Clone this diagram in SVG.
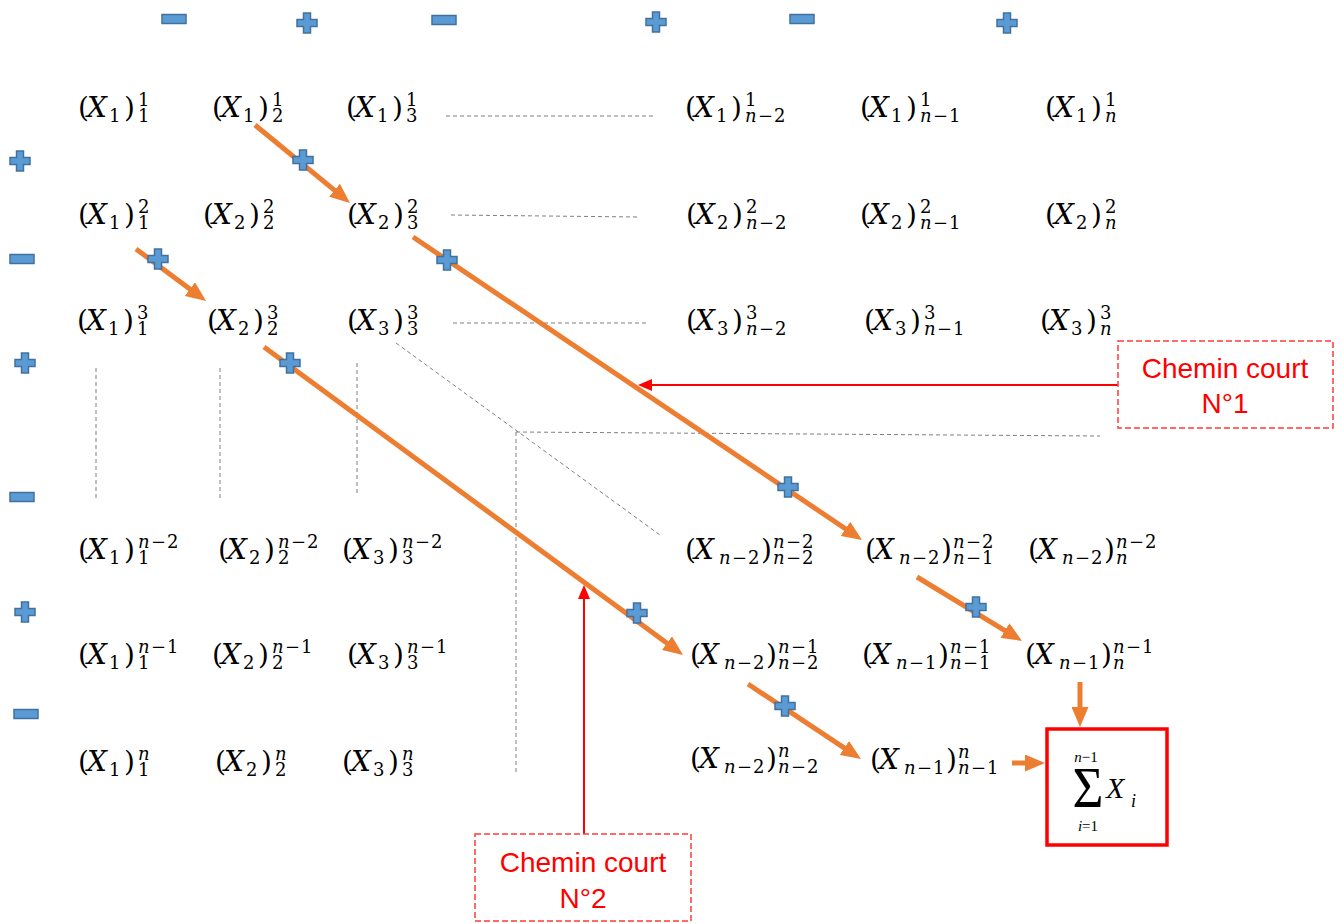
<svg xmlns="http://www.w3.org/2000/svg" width="1343" height="923" viewBox="0 0 1343 923">
<style>
.m{font-family:"DejaVu Serif","Liberation Serif",serif;font-size:28px;fill:#000}
.i{font-style:italic}
.s{font-size:18px}
.g{stroke:#7F7F7F;stroke-width:1;stroke-dasharray:4 3;fill:none}
.o{stroke:#ED7D31;stroke-width:5;fill:none;marker-end:url(#ao)}
.r{stroke:#FF0000;stroke-width:2;fill:none;marker-end:url(#ar)}
.pm{fill:#5B9BD5;stroke:#41719C;stroke-width:1.5}
.db{fill:#fff;stroke:#FF3B3B;stroke-width:1.5;stroke-dasharray:6 3}
.lbl{font-family:"Liberation Sans",Arial,sans-serif;font-size:28px;fill:#FF0000;text-anchor:middle}
.t{font-family:"Liberation Serif","Times New Roman",serif;fill:#000}
</style>
<defs>
<marker id="ao" markerUnits="userSpaceOnUse" markerWidth="20" markerHeight="17" refX="12" refY="8.5" orient="auto"><path d="M0,0 L20,8.5 L0,17 Z" fill="#ED7D31"/></marker>
<marker id="ar" markerUnits="userSpaceOnUse" markerWidth="14" markerHeight="12" refX="4" refY="6" orient="auto"><path d="M0,0 L14,6 L0,12 Z" fill="#FF0000"/></marker>
<path id="plus" d="M-3.5,-10 H3.5 V-3.5 H10 V3.5 H3.5 V10 H-3.5 V3.5 H-10 V-3.5 H-3.5 Z"/>
<rect id="minus" x="-12" y="-4.5" width="24" height="9"/>
</defs>
<rect width="1343" height="923" fill="#fff"/>

<g id="guides">
<line class="g" x1="446" y1="116" x2="653" y2="116"/>
<line class="g" x1="451" y1="215" x2="638" y2="217"/>
<line class="g" x1="453" y1="323" x2="648" y2="323"/>
<line class="g" x1="96" y1="368" x2="96" y2="500"/>
<line class="g" x1="220" y1="368" x2="220" y2="500"/>
<line class="g" x1="357" y1="363" x2="357" y2="496"/>
<line class="g" x1="396" y1="343" x2="660" y2="535"/>
<line class="g" x1="516" y1="432" x2="1100" y2="436"/>
<line class="g" x1="516" y1="432" x2="516" y2="773"/>
</g>

<g id="connectors">
<line class="o" x1="255" y1="125" x2="343.8" y2="197.9"/>
<line class="o" x1="136" y1="249" x2="199.6" y2="296.2"/>
<line class="o" x1="413" y1="237" x2="855.4" y2="535.5"/>
<line class="o" x1="264" y1="347" x2="676.6" y2="650.3"/>
<line class="o" x1="917" y1="577" x2="1015.2" y2="636.8"/>
<line class="o" x1="748" y1="684" x2="854.3" y2="754.6"/>
<line class="o" x1="1080" y1="682" x2="1080" y2="719"/>
<line class="o" x1="1012" y1="763" x2="1037" y2="763"/>
<line class="r" x1="1118" y1="385" x2="648" y2="385"/>
<line class="r" x1="584" y1="834" x2="584" y2="595"/>
</g>

<g id="signs">
<use href="#minus" class="pm" x="174" y="19"/>
<use href="#plus" class="pm" x="307" y="23"/>
<use href="#minus" class="pm" x="444" y="20"/>
<use href="#plus" class="pm" x="656" y="22"/>
<use href="#minus" class="pm" x="802" y="19"/>
<use href="#plus" class="pm" x="1007" y="23"/>
<use href="#plus" class="pm" x="20" y="161"/>
<use href="#minus" class="pm" x="22" y="259"/>
<use href="#plus" class="pm" x="25" y="363"/>
<use href="#minus" class="pm" x="22" y="497"/>
<use href="#plus" class="pm" x="25" y="612"/>
<use href="#minus" class="pm" x="26" y="714"/>
<use href="#plus" class="pm" x="303" y="160"/>
<use href="#plus" class="pm" x="158" y="259"/>
<use href="#plus" class="pm" x="447" y="260"/>
<use href="#plus" class="pm" x="290" y="363"/>
<use href="#plus" class="pm" x="788" y="487"/>
<use href="#plus" class="pm" x="637" y="613"/>
<use href="#plus" class="pm" x="976" y="607"/>
<use href="#plus" class="pm" x="785" y="706"/>
</g>

<!-- Row 1 -->
<g id="a1"><text class="m" y="117"><tspan x="78">(</tspan><tspan class="i" x="87">X</tspan><tspan class="s" x="109" y="122">1</tspan><tspan x="124" y="117">)</tspan><tspan class="s" x="138" y="106">1</tspan><tspan class="s" x="138" y="122">1</tspan></text></g>
<g id="a2"><text class="m" y="117"><tspan x="212">(</tspan><tspan class="i" x="221">X</tspan><tspan class="s" x="243" y="122">1</tspan><tspan x="258" y="117">)</tspan><tspan class="s" x="272" y="106">1</tspan><tspan class="s" x="272" y="122">2</tspan></text></g>
<g id="a3"><text class="m" y="117"><tspan x="346">(</tspan><tspan class="i" x="355">X</tspan><tspan class="s" x="377" y="122">1</tspan><tspan x="392" y="117">)</tspan><tspan class="s" x="406" y="106">1</tspan><tspan class="s" x="406" y="122">3</tspan></text></g>
<g id="a4"><text class="m" y="117"><tspan x="685">(</tspan><tspan class="i" x="694">X</tspan><tspan class="s" x="716" y="122">1</tspan><tspan x="731" y="117">)</tspan><tspan class="s" x="745" y="106">1</tspan><tspan class="s i" x="745" y="122">n</tspan><tspan class="s" x="758" y="122">−</tspan><tspan class="s" x="774" y="122">2</tspan></text></g>
<g id="a5"><text class="m" y="117"><tspan x="860">(</tspan><tspan class="i" x="869">X</tspan><tspan class="s" x="891" y="122">1</tspan><tspan x="906" y="117">)</tspan><tspan class="s" x="920" y="106">1</tspan><tspan class="s i" x="920" y="122">n</tspan><tspan class="s" x="933" y="122">−</tspan><tspan class="s" x="949" y="122">1</tspan></text></g>
<g id="a6"><text class="m" y="117"><tspan x="1045">(</tspan><tspan class="i" x="1054">X</tspan><tspan class="s" x="1076" y="122">1</tspan><tspan x="1091" y="117">)</tspan><tspan class="s" x="1105" y="106">1</tspan><tspan class="s i" x="1105" y="122">n</tspan></text></g>

<!-- Row 2 -->
<g id="b1"><text class="m" y="224"><tspan x="78">(</tspan><tspan class="i" x="87">X</tspan><tspan class="s" x="109" y="229">1</tspan><tspan x="124" y="224">)</tspan><tspan class="s" x="138" y="213">2</tspan><tspan class="s" x="138" y="229">1</tspan></text></g>
<g id="b2"><text class="m" y="224"><tspan x="203">(</tspan><tspan class="i" x="212">X</tspan><tspan class="s" x="234" y="229">2</tspan><tspan x="249" y="224">)</tspan><tspan class="s" x="263" y="213">2</tspan><tspan class="s" x="263" y="229">2</tspan></text></g>
<g id="b3"><text class="m" y="224"><tspan x="347">(</tspan><tspan class="i" x="356">X</tspan><tspan class="s" x="378" y="229">2</tspan><tspan x="393" y="224">)</tspan><tspan class="s" x="407" y="213">2</tspan><tspan class="s" x="407" y="229">3</tspan></text></g>
<g id="b4"><text class="m" y="224"><tspan x="686">(</tspan><tspan class="i" x="695">X</tspan><tspan class="s" x="717" y="229">2</tspan><tspan x="732" y="224">)</tspan><tspan class="s" x="746" y="213">2</tspan><tspan class="s i" x="746" y="229">n</tspan><tspan class="s" x="759" y="229">−</tspan><tspan class="s" x="775" y="229">2</tspan></text></g>
<g id="b5"><text class="m" y="224"><tspan x="860">(</tspan><tspan class="i" x="869">X</tspan><tspan class="s" x="891" y="229">2</tspan><tspan x="906" y="224">)</tspan><tspan class="s" x="920" y="213">2</tspan><tspan class="s i" x="920" y="229">n</tspan><tspan class="s" x="933" y="229">−</tspan><tspan class="s" x="949" y="229">1</tspan></text></g>
<g id="b6"><text class="m" y="224"><tspan x="1045">(</tspan><tspan class="i" x="1054">X</tspan><tspan class="s" x="1076" y="229">2</tspan><tspan x="1091" y="224">)</tspan><tspan class="s" x="1105" y="213">2</tspan><tspan class="s i" x="1105" y="229">n</tspan></text></g>

<!-- Row 3 -->
<g id="c1"><text class="m" y="330"><tspan x="77">(</tspan><tspan class="i" x="86">X</tspan><tspan class="s" x="108" y="335">1</tspan><tspan x="123" y="330">)</tspan><tspan class="s" x="137" y="319">3</tspan><tspan class="s" x="137" y="335">1</tspan></text></g>
<g id="c2"><text class="m" y="330"><tspan x="207">(</tspan><tspan class="i" x="216">X</tspan><tspan class="s" x="238" y="335">2</tspan><tspan x="253" y="330">)</tspan><tspan class="s" x="267" y="319">3</tspan><tspan class="s" x="267" y="335">2</tspan></text></g>
<g id="c3"><text class="m" y="330"><tspan x="347">(</tspan><tspan class="i" x="356">X</tspan><tspan class="s" x="378" y="335">3</tspan><tspan x="393" y="330">)</tspan><tspan class="s" x="407" y="319">3</tspan><tspan class="s" x="407" y="335">3</tspan></text></g>
<g id="c4"><text class="m" y="330"><tspan x="686">(</tspan><tspan class="i" x="695">X</tspan><tspan class="s" x="717" y="335">3</tspan><tspan x="732" y="330">)</tspan><tspan class="s" x="746" y="319">3</tspan><tspan class="s i" x="746" y="335">n</tspan><tspan class="s" x="759" y="335">−</tspan><tspan class="s" x="775" y="335">2</tspan></text></g>
<g id="c5"><text class="m" y="330"><tspan x="864">(</tspan><tspan class="i" x="873">X</tspan><tspan class="s" x="895" y="335">3</tspan><tspan x="910" y="330">)</tspan><tspan class="s" x="924" y="319">3</tspan><tspan class="s i" x="924" y="335">n</tspan><tspan class="s" x="937" y="335">−</tspan><tspan class="s" x="953" y="335">1</tspan></text></g>
<g id="c6"><text class="m" y="330"><tspan x="1040">(</tspan><tspan class="i" x="1049">X</tspan><tspan class="s" x="1071" y="335">3</tspan><tspan x="1086" y="330">)</tspan><tspan class="s" x="1100" y="319">3</tspan><tspan class="s i" x="1100" y="335">n</tspan></text></g>

<!-- Row n-2 -->
<g id="d1"><text class="m" y="559"><tspan x="78">(</tspan><tspan class="i" x="87">X</tspan><tspan class="s" x="109" y="564">1</tspan><tspan x="124" y="559">)</tspan><tspan class="s i" x="138" y="548">n</tspan><tspan class="s" x="151" y="548">−</tspan><tspan class="s" x="167" y="548">2</tspan><tspan class="s" x="138" y="564">1</tspan></text></g>
<g id="d2"><text class="m" y="559"><tspan x="218">(</tspan><tspan class="i" x="227">X</tspan><tspan class="s" x="249" y="564">2</tspan><tspan x="264" y="559">)</tspan><tspan class="s i" x="278" y="548">n</tspan><tspan class="s" x="291" y="548">−</tspan><tspan class="s" x="307" y="548">2</tspan><tspan class="s" x="278" y="564">2</tspan></text></g>
<g id="d3"><text class="m" y="559"><tspan x="342">(</tspan><tspan class="i" x="351">X</tspan><tspan class="s" x="373" y="564">3</tspan><tspan x="388" y="559">)</tspan><tspan class="s i" x="402" y="548">n</tspan><tspan class="s" x="415" y="548">−</tspan><tspan class="s" x="431" y="548">2</tspan><tspan class="s" x="402" y="564">3</tspan></text></g>
<g id="d4"><text class="m" y="559"><tspan x="685">(</tspan><tspan class="i" x="694">X</tspan><tspan class="s i" x="719" y="564">n</tspan><tspan class="s" x="732" y="564">−</tspan><tspan class="s" x="748" y="564">2</tspan><tspan x="761" y="559">)</tspan><tspan class="s i" x="773" y="548">n</tspan><tspan class="s" x="786" y="548">−</tspan><tspan class="s" x="802" y="548">2</tspan><tspan class="s i" x="773" y="564">n</tspan><tspan class="s" x="786" y="564">−</tspan><tspan class="s" x="802" y="564">2</tspan></text></g>
<g id="d5"><text class="m" y="559"><tspan x="865">(</tspan><tspan class="i" x="874">X</tspan><tspan class="s i" x="899" y="564">n</tspan><tspan class="s" x="912" y="564">−</tspan><tspan class="s" x="928" y="564">2</tspan><tspan x="941" y="559">)</tspan><tspan class="s i" x="953" y="548">n</tspan><tspan class="s" x="966" y="548">−</tspan><tspan class="s" x="982" y="548">2</tspan><tspan class="s i" x="953" y="564">n</tspan><tspan class="s" x="966" y="564">−</tspan><tspan class="s" x="982" y="564">1</tspan></text></g>
<g id="d6"><text class="m" y="559"><tspan x="1028">(</tspan><tspan class="i" x="1037">X</tspan><tspan class="s i" x="1062" y="564">n</tspan><tspan class="s" x="1075" y="564">−</tspan><tspan class="s" x="1091" y="564">2</tspan><tspan x="1104" y="559">)</tspan><tspan class="s i" x="1116" y="548">n</tspan><tspan class="s" x="1129" y="548">−</tspan><tspan class="s" x="1145" y="548">2</tspan><tspan class="s i" x="1116" y="564">n</tspan></text></g>

<!-- Row n-1 -->
<g id="e1"><text class="m" y="664"><tspan x="78">(</tspan><tspan class="i" x="87">X</tspan><tspan class="s" x="109" y="669">1</tspan><tspan x="124" y="664">)</tspan><tspan class="s i" x="138" y="653">n</tspan><tspan class="s" x="151" y="653">−</tspan><tspan class="s" x="167" y="653">1</tspan><tspan class="s" x="138" y="669">1</tspan></text></g>
<g id="e2"><text class="m" y="664"><tspan x="212">(</tspan><tspan class="i" x="221">X</tspan><tspan class="s" x="243" y="669">2</tspan><tspan x="258" y="664">)</tspan><tspan class="s i" x="272" y="653">n</tspan><tspan class="s" x="285" y="653">−</tspan><tspan class="s" x="301" y="653">1</tspan><tspan class="s" x="272" y="669">2</tspan></text></g>
<g id="e3"><text class="m" y="664"><tspan x="347">(</tspan><tspan class="i" x="356">X</tspan><tspan class="s" x="378" y="669">3</tspan><tspan x="393" y="664">)</tspan><tspan class="s i" x="407" y="653">n</tspan><tspan class="s" x="420" y="653">−</tspan><tspan class="s" x="436" y="653">1</tspan><tspan class="s" x="407" y="669">3</tspan></text></g>
<g id="e4"><text class="m" y="664"><tspan x="690">(</tspan><tspan class="i" x="699">X</tspan><tspan class="s i" x="724" y="669">n</tspan><tspan class="s" x="737" y="669">−</tspan><tspan class="s" x="753" y="669">2</tspan><tspan x="766" y="664">)</tspan><tspan class="s i" x="778" y="653">n</tspan><tspan class="s" x="791" y="653">−</tspan><tspan class="s" x="807" y="653">1</tspan><tspan class="s i" x="778" y="669">n</tspan><tspan class="s" x="791" y="669">−</tspan><tspan class="s" x="807" y="669">2</tspan></text></g>
<g id="e5"><text class="m" y="664"><tspan x="862">(</tspan><tspan class="i" x="871">X</tspan><tspan class="s i" x="896" y="669">n</tspan><tspan class="s" x="909" y="669">−</tspan><tspan class="s" x="925" y="669">1</tspan><tspan x="938" y="664">)</tspan><tspan class="s i" x="950" y="653">n</tspan><tspan class="s" x="963" y="653">−</tspan><tspan class="s" x="979" y="653">1</tspan><tspan class="s i" x="950" y="669">n</tspan><tspan class="s" x="963" y="669">−</tspan><tspan class="s" x="979" y="669">1</tspan></text></g>
<g id="e6"><text class="m" y="664"><tspan x="1025">(</tspan><tspan class="i" x="1034">X</tspan><tspan class="s i" x="1059" y="669">n</tspan><tspan class="s" x="1072" y="669">−</tspan><tspan class="s" x="1088" y="669">1</tspan><tspan x="1101" y="664">)</tspan><tspan class="s i" x="1113" y="653">n</tspan><tspan class="s" x="1126" y="653">−</tspan><tspan class="s" x="1142" y="653">1</tspan><tspan class="s i" x="1113" y="669">n</tspan></text></g>

<!-- Row n -->
<g id="f1"><text class="m" y="771"><tspan x="78">(</tspan><tspan class="i" x="87">X</tspan><tspan class="s" x="109" y="776">1</tspan><tspan x="124" y="771">)</tspan><tspan class="s i" x="138" y="760">n</tspan><tspan class="s" x="138" y="776">1</tspan></text></g>
<g id="f2"><text class="m" y="771"><tspan x="215">(</tspan><tspan class="i" x="224">X</tspan><tspan class="s" x="246" y="776">2</tspan><tspan x="261" y="771">)</tspan><tspan class="s i" x="275" y="760">n</tspan><tspan class="s" x="275" y="776">2</tspan></text></g>
<g id="f3"><text class="m" y="771"><tspan x="342">(</tspan><tspan class="i" x="351">X</tspan><tspan class="s" x="373" y="776">3</tspan><tspan x="388" y="771">)</tspan><tspan class="s i" x="402" y="760">n</tspan><tspan class="s" x="402" y="776">3</tspan></text></g>
<g id="f4"><text class="m" y="768"><tspan x="690">(</tspan><tspan class="i" x="699">X</tspan><tspan class="s i" x="724" y="773">n</tspan><tspan class="s" x="737" y="773">−</tspan><tspan class="s" x="753" y="773">2</tspan><tspan x="766" y="768">)</tspan><tspan class="s i" x="778" y="757">n</tspan><tspan class="s i" x="778" y="773">n</tspan><tspan class="s" x="791" y="773">−</tspan><tspan class="s" x="807" y="773">2</tspan></text></g>
<g id="f5"><text class="m" y="769"><tspan x="870">(</tspan><tspan class="i" x="879">X</tspan><tspan class="s i" x="904" y="774">n</tspan><tspan class="s" x="917" y="774">−</tspan><tspan class="s" x="933" y="774">1</tspan><tspan x="946" y="769">)</tspan><tspan class="s i" x="958" y="758">n</tspan><tspan class="s i" x="958" y="774">n</tspan><tspan class="s" x="971" y="774">−</tspan><tspan class="s" x="987" y="774">1</tspan></text></g>

<g id="sum">
<rect x="1047" y="729" width="120" height="116" fill="#fff" stroke="#FF0000" stroke-width="3.5"/>
<text class="t" x="1088" y="807" font-size="56" text-anchor="middle" textLength="31" lengthAdjust="spacingAndGlyphs">Σ</text>
<text class="t" x="1086" y="762" font-size="15" text-anchor="middle"><tspan font-style="italic">n</tspan>−1</text>
<text class="t" x="1088" y="831" font-size="15" text-anchor="middle"><tspan font-style="italic">i</tspan>=1</text>
<text class="t" x="1106" y="798" font-size="30" font-style="italic">X</text>
<text class="t" x="1131" y="807" font-size="18" font-style="italic">i</text>
</g>

<g id="label1">
<rect class="db" x="1118" y="341" width="215" height="87"/>
<text class="lbl" x="1225" y="378">Chemin court</text>
<text class="lbl" x="1225" y="413">N°1</text>
</g>
<g id="label2">
<rect class="db" x="475" y="834" width="216" height="87"/>
<text class="lbl" x="583" y="872">Chemin court</text>
<text class="lbl" x="583" y="908">N°2</text>
</g>
</svg>
